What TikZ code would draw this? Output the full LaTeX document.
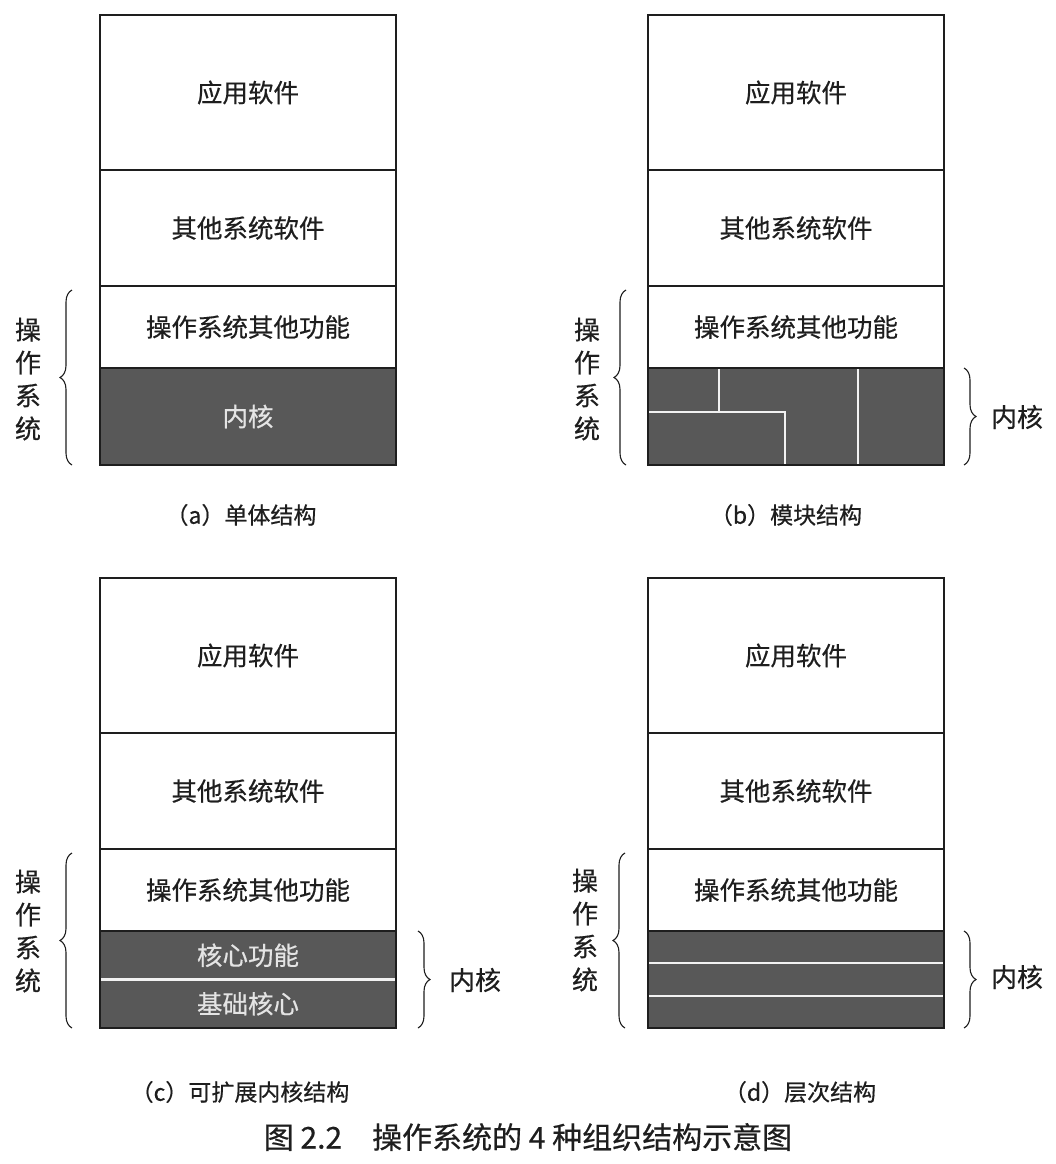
\documentclass[tikz,border=0pt]{standalone}
\usepackage{fontspec}
\newfontfamily\cjk[FakeBold=0.5]{Noto Sans CJK SC}
\usetikzlibrary{decorations.pathreplacing,calc}
\definecolor{kern}{HTML}{585858}
\definecolor{ink}{HTML}{1E1E1E}
\definecolor{ktext}{HTML}{E4E4E4}
\begin{document}
\begin{tikzpicture}[x=1pt,y=-1pt,
 layer/.style={draw=ink, line width=1.3pt, fill=white, minimum width=296pt, inner sep=0pt, outer sep=0pt, text=ink, font=\cjk\fontsize{25.5}{25.5}\selectfont},
 kernel/.style={layer, fill=kern, text=ktext},
 sepline/.style={draw=white!95!black, line width=2.2pt},
 frame/.style={draw=ink, line width=1.3pt},
 brc/.style={decorate, decoration={brace, amplitude=12pt}, draw=ink, line width=1.1pt},
 lbl/.style={inner sep=0pt, text=ink, font=\cjk\fontsize{26}{26}\selectfont},
 vlbl/.style={inner sep=0pt, text=ink, align=center, font=\cjk\fontsize{26}{33}\selectfont},
 captxt/.style={inner sep=0pt, text=ink, font=\cjk\fontsize{23}{23}\selectfont},
]
\useasboundingbox[fill=white] (0,0) rectangle (1056,1164);

% ---------- (a) ----------
\node[layer, minimum height=155pt] (a1) at (248,92.5) {应用软件};
\node[layer, minimum height=116pt] (a2) at (248,228) {其他系统软件};
\node[layer, minimum height=82pt] (a3) at (248,327) {操作系统其他功能};
\node[kernel, minimum height=97pt] (a4) at (248,416.5) {内核};
\draw[brc] ([xshift=-28pt]a4.south west) -- ([xshift=-28pt,yshift=-4pt]a3.north west);
\node[vlbl] (osa) at (28,379) {操\\作\\系\\统};
\node[captxt] (capa) at (241,515) {（a）单体结构};

% ---------- (b) ----------
\node[layer, minimum height=155pt] (b1) at (796,92.5) {应用软件};
\node[layer, minimum height=116pt] (b2) at (796,228) {其他系统软件};
\node[layer, minimum height=82pt] (b3) at (796,327) {操作系统其他功能};
\node[kernel, minimum height=97pt] (b4) at (796,416.5) {};
\draw[sepline] ($(b4.north west)+(71,0)$) -- ($(b4.north west)+(71,44)$);
\draw[sepline] ($(b4.north west)+(0,44)$) -- ($(b4.north west)+(137,44)$) -- ($(b4.south west)+(137,0)$);
\draw[sepline] ($(b4.north west)+(210,0)$) -- ($(b4.south west)+(210,0)$);
\draw[frame] (b4.north west) rectangle (b4.south east);
\draw[brc] ([xshift=-22pt]b4.south west) -- ([xshift=-22pt,yshift=-4pt]b3.north west);
\node[vlbl] (osb) at (587,379) {操\\作\\系\\统};
\draw[brc] ([xshift=20pt]b4.north east) -- ([xshift=20pt]b4.south east);
\node[lbl] (kb) at (1017,417) {内核};
\node[captxt] (capb) at (786,515) {（b）模块结构};

% ---------- (c) ----------
\node[layer, minimum height=155pt] (c1) at (248,655.5) {应用软件};
\node[layer, minimum height=116pt] (c2) at (248,791) {其他系统软件};
\node[layer, minimum height=82pt] (c3) at (248,890) {操作系统其他功能};
\node[kernel, draw=none, minimum height=48.5pt] (c4) at (248,955.25) {核心功能};
\node[kernel, draw=none, minimum height=48.5pt] (c5) at (248,1003.75) {基础核心};
\draw[sepline] (c4.south west) -- (c4.south east);
\draw[frame] (c4.north west) rectangle (c5.south east);
\draw[brc] ([xshift=-28pt]c5.south west) -- ([xshift=-28pt,yshift=-4pt]c3.north west);
\node[vlbl] (osc) at (28,931) {操\\作\\系\\统};
\draw[brc] ([xshift=22pt]c4.north east) -- ([xshift=22pt]c5.south east);
\node[lbl] (kc) at (475,980) {内核};
\node[captxt] (capc) at (240,1092) {（c）可扩展内核结构};

% ---------- (d) ----------
\node[layer, minimum height=155pt] (d1) at (796,655.5) {应用软件};
\node[layer, minimum height=116pt] (d2) at (796,791) {其他系统软件};
\node[layer, minimum height=82pt] (d3) at (796,890) {操作系统其他功能};
\node[kernel, minimum height=97pt] (d4) at (796,979.5) {};
\draw[sepline] ($(d4.north west)!1/3!(d4.south west)$) -- ($(d4.north east)!1/3!(d4.south east)$);
\draw[sepline] ($(d4.north west)!2/3!(d4.south west)$) -- ($(d4.north east)!2/3!(d4.south east)$);
\draw[frame] (d4.north west) rectangle (d4.south east);
\draw[brc] ([xshift=-23pt]d4.south west) -- ([xshift=-23pt,yshift=-4pt]d3.north west);
\node[vlbl] (osd) at (585,930) {操\\作\\系\\统};
\draw[brc] ([xshift=20pt]d4.north east) -- ([xshift=20pt]d4.south east);
\node[lbl] (kd) at (1017,977) {内核};
\node[captxt] (capd) at (800,1092) {（d）层次结构};

% ---------- title ----------
\node[inner sep=0pt, text=ink, font=\cjk\fontsize{30}{30}\selectfont] (title) at (528,1137) {图 2.2\quad 操作系统的 4 种组织结构示意图};
\end{tikzpicture}
\end{document}
